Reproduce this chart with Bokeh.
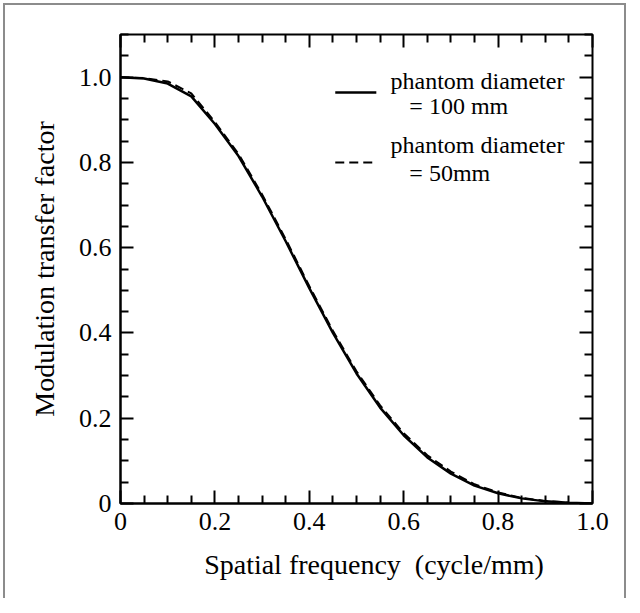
from bokeh.plotting import figure
from bokeh.models import LinearAxis, FixedTicker, Label, Range1d
from bokeh.embed import file_html
from bokeh.resources import INLINE

# ---- data ----
freq = [0.0, 0.05, 0.10, 0.15, 0.20, 0.25, 0.30, 0.35, 0.40, 0.45, 0.50,
        0.55, 0.60, 0.65, 0.70, 0.75, 0.80, 0.85, 0.90, 0.95, 1.0]
mtf_100mm = [1.0, 0.997, 0.985, 0.955, 0.890, 0.815, 0.720, 0.615, 0.505, 0.400, 0.305,
             0.225, 0.160, 0.108, 0.070, 0.042, 0.024, 0.012, 0.005, 0.002, 0.0]
mtf_50mm = [1.0, 0.998, 0.990, 0.962, 0.895, 0.820, 0.725, 0.620, 0.510, 0.405, 0.310,
            0.230, 0.165, 0.113, 0.075, 0.045, 0.026, 0.013, 0.006, 0.002, 0.0]

x_ticks = [0.0, 0.2, 0.4, 0.6, 0.8, 1.0]
x_tick_labels = ["0", "0.2", "0.4", "0.6", "0.8", "1.0"]
x_minor = [0.05, 0.10, 0.15, 0.25, 0.30, 0.35, 0.45, 0.50, 0.55, 0.65, 0.70, 0.75,
           0.85, 0.90, 0.95]
y_ticks = [0.0, 0.2, 0.4, 0.6, 0.8, 1.0]
y_tick_labels = ["0", "0.2", "0.4", "0.6", "0.8", "1.0"]
y_minor = [0.05, 0.10, 0.15, 0.25, 0.30, 0.35, 0.45, 0.50, 0.55, 0.65, 0.70, 0.75,
           0.85, 0.90, 0.95, 1.05, 1.10]

legend_labels = ["phantom diameter", "= 100 mm", "phantom diameter", "= 50mm"]

FONT = "Liberation Serif"
MAJOR_LEN = 13
MINOR_LEN = 8
NBSP = "\u00a0"

p = figure(width=623, height=595, x_range=Range1d(0, 1.0), y_range=Range1d(0, 1.1),
           output_backend="svg", toolbar_location=None,
           min_border_left=115, min_border_top=29, min_border_right=36, min_border_bottom=97,
           x_axis_label=NBSP * 5 + "Spatial frequency" + NBSP + " (cycle/mm)",
           y_axis_label="Modulation transfer factor")
p.styles = {"border-top": "2px solid #8c8c8c", "border-left": "2px solid #8c8c8c",
            "border-right": "2px solid #8c8c8c", "margin": "3px"}
p.xgrid.visible = False
p.ygrid.visible = False
p.outline_line_color = "black"
p.outline_line_width = 2
p.background_fill_color = "white"
p.border_fill_color = "white"


def style_main(ax, ticks, minor, labels):
    ax.ticker = FixedTicker(ticks=ticks, minor_ticks=minor)
    ax.major_tick_in = MAJOR_LEN
    ax.major_tick_out = 0
    ax.minor_tick_in = MINOR_LEN
    ax.minor_tick_out = 0
    ax.major_tick_line_width = 2
    ax.minor_tick_line_width = 2
    ax.major_tick_line_color = "black"
    ax.minor_tick_line_color = "black"
    ax.axis_line_width = 2
    ax.axis_line_color = "black"
    ax.major_label_overrides = dict(zip(ticks, labels))
    ax.major_label_text_font = FONT
    ax.major_label_text_font_size = "26px"
    ax.major_label_text_color = "black"
    ax.major_label_standoff = 9
    ax.axis_label_text_font = FONT
    ax.axis_label_text_font_size = "28px"
    ax.axis_label_text_font_style = "normal"
    ax.axis_label_text_color = "black"
    ax.axis_label_standoff = 16


def tick_only_axis(positions, length):
    ax = LinearAxis(ticker=FixedTicker(ticks=[], minor_ticks=positions))
    ax.minor_tick_in = length
    ax.minor_tick_out = 0
    ax.minor_tick_line_width = 2
    ax.minor_tick_line_color = "black"
    ax.major_tick_line_color = None
    ax.axis_line_color = None
    ax.major_label_standoff = 0
    ax.axis_label_standoff = 0
    return ax


style_main(p.below[0], x_ticks, x_minor, x_tick_labels)
style_main(p.left[0], y_ticks, y_minor, y_tick_labels)

p.add_layout(tick_only_axis(x_minor, MINOR_LEN), "above")
p.add_layout(tick_only_axis(x_ticks, MAJOR_LEN), "above")
p.add_layout(tick_only_axis(y_minor, MINOR_LEN), "right")
p.add_layout(tick_only_axis(y_ticks, MAJOR_LEN), "right")

p.line(freq, mtf_100mm, line_color="black", line_width=2.5)
p.line(freq, mtf_50mm, line_color="black", line_width=2, line_dash="9 5")

# legend (manual)
LX0, LX1 = 0.455, 0.542
p.line([LX0, LX1], [0.964, 0.964], line_color="black", line_width=2.5)
p.line([LX0, LX1], [0.800, 0.800], line_color="black", line_width=2, line_dash="9 5")
for txt, lx, ly in zip(legend_labels, [0.572, 0.612, 0.572, 0.612], [0.992, 0.933, 0.842, 0.776]):
    p.add_layout(Label(x=lx, y=ly, text=txt, text_font=FONT, text_font_size="24px",
                       text_baseline="middle", text_color="black"))

open("out.html", "w").write(file_html(p, INLINE))
